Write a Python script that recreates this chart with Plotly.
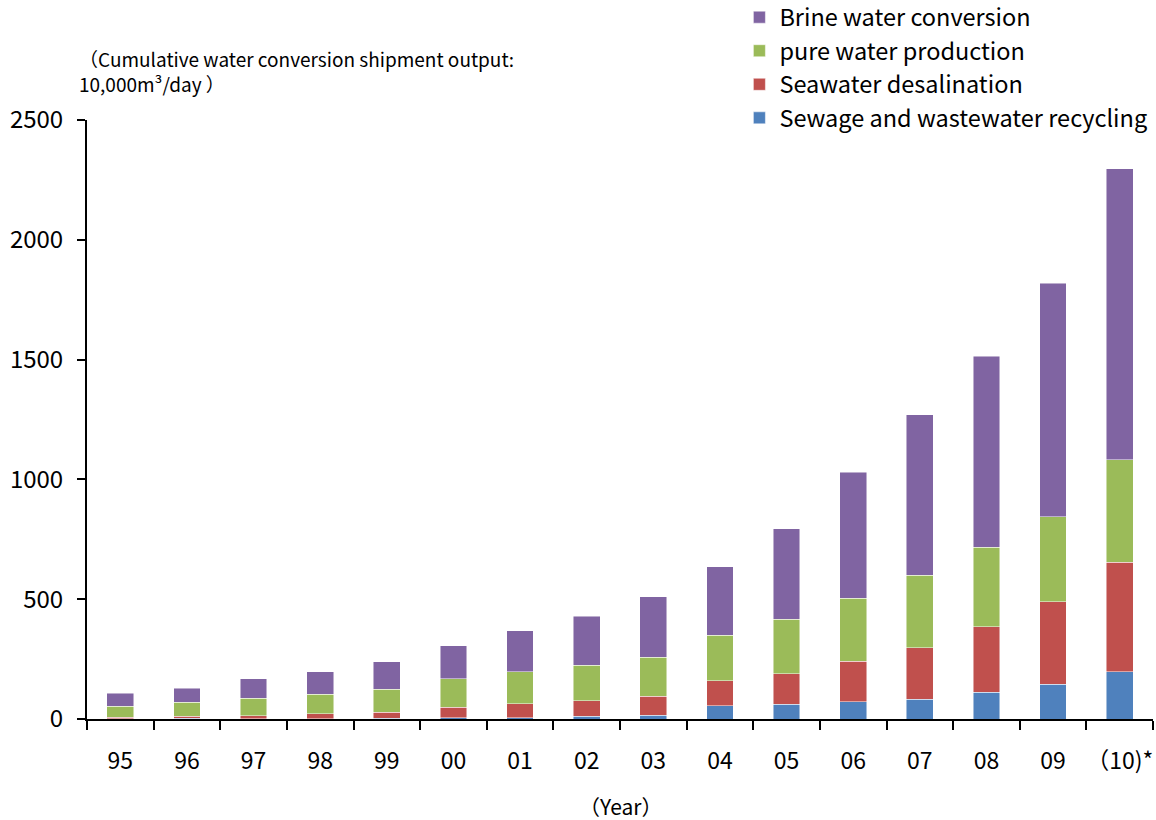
import plotly.graph_objects as go

years = ["95", "96", "97", "98", "99", "00", "01", "02", "03", "04", "05", "06", "07", "08", "09", "（10)*"]
sewage = [2, 3, 1, 2, 3, 5, 6, 12, 15, 55, 61, 71, 83, 111, 145, 198]
seawater = [5, 8, 12, 19, 26, 44, 58, 64, 80, 105, 128, 170, 215, 274, 345, 457]
pure = [47, 59, 73, 82, 95, 120, 134, 149, 162, 190, 227, 263, 302, 331, 354, 426]
brine = [53, 58, 83, 95, 114, 137, 170, 204, 253, 285, 378, 525, 669, 798, 974, 1215]

series = [
    ("Sewage and wastewater recycling", sewage, "#4F81BD"),
    ("Seawater desalination", seawater, "#C0504D"),
    ("pure water production", pure, "#9BBB59"),
    ("Brine water conversion", brine, "#8064A2"),
]

FONT = "Noto Sans CJK JP"

fig = go.Figure()
for name, vals, col in series:
    fig.add_trace(go.Bar(
        x=years, y=vals, name=name,
        marker=dict(color=col, line=dict(color="rgba(255,255,255,0.6)", width=0.8)),
    ))

fig.update_layout(
    barmode="stack",
    bargap=0.6,
    width=1156, height=820,
    margin=dict(l=87, r=3, t=120, b=101, autoexpand=False),
    paper_bgcolor="white",
    plot_bgcolor="white",
    font=dict(family=FONT, size=22, color="black"),
    legend=dict(
        x=0.612, y=1.208, xanchor="left", yanchor="top",
        traceorder="reversed",
        font=dict(family=FONT, size=23.5, color="black"),
        bgcolor="rgba(0,0,0,0)",
        itemwidth=30,
        tracegroupgap=0,
    ),
    xaxis=dict(
        type="category",
        automargin=False,
        tickangle=0,
        showline=True, linecolor="black", linewidth=2,
        ticks="outside", tickson="boundaries", ticklen=9, tickwidth=2, tickcolor="black",
        tickfont=dict(family=FONT, size=23),
        ticklabelstandoff=20,
        showgrid=False,
    ),
    yaxis=dict(
        automargin=False,
        range=[0, 2500], dtick=500,
        showline=True, linecolor="black", linewidth=2,
        ticks="outside", ticklen=8, tickwidth=2, tickcolor="black",
        tickfont=dict(family=FONT, size=24),
        ticklabelstandoff=9,
        showgrid=False, zeroline=False,
    ),
    annotations=[
        dict(
            text="（Cumulative water conversion shipment output:<br>10,000m³/day ）",
            xref="paper", yref="paper", x=-0.009, y=1.082,
            xanchor="left", yanchor="middle", align="left", showarrow=False,
            font=dict(family=FONT, size=19),
        ),
        dict(
            text="（Year）",
            xref="paper", yref="paper", x=0.5, y=-0.145,
            xanchor="center", yanchor="middle", showarrow=False,
            font=dict(family=FONT, size=21),
        ),
    ],
)

fig.write_html("out.html")
